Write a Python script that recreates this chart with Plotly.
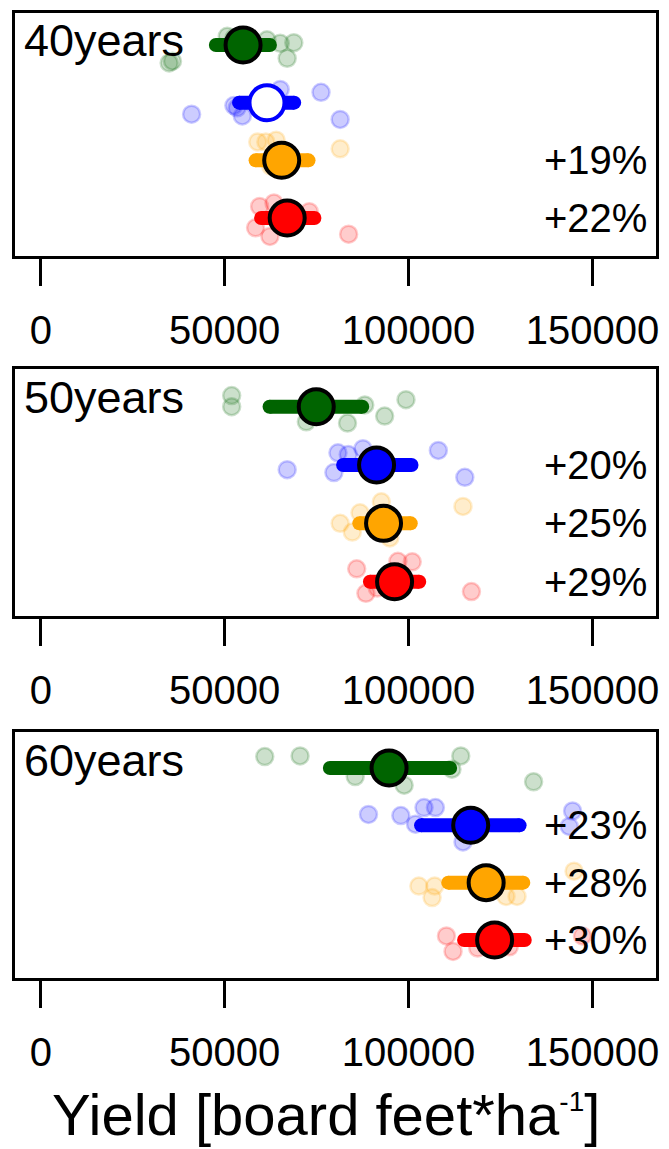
import plotly.graph_objects as go

# ---------------- data ----------------
ages = ["40years", "50years", "60years"]
group_colors = ["#006400", "#0000FF", "#FFA500", "#FF0000"]  # green, blue, orange, red
rows = [4, 3, 2, 1]

means_40 = [55000, 61500, 65500, 67000]
lo_40 = [47600, 53900, 58400, 59900]
hi_40 = [62300, 68900, 72800, 74400]
means_50 = [74900, 91300, 93200, 96200]
lo_50 = [62200, 82200, 86600, 89500]
hi_50 = [87400, 100800, 100600, 102900]
means_60 = [94700, 116900, 121100, 123400]
lo_60 = [78600, 103400, 110800, 115100]
hi_60 = [111300, 130200, 131200, 131600]

pct_40 = ["", "", "+19%", "+22%"]
pct_50 = ["", "+20%", "+25%", "+29%"]
pct_60 = ["", "+23%", "+28%", "+30%"]

pts40_green_x = [35800, 34900, 50700, 52500, 61500, 65100, 68800, 67000]
pts40_green_j = [-0.28, -0.31, 0.15, 0.12, 0.09, 0.03, 0.04, -0.23]
pts40_blue_x = [41000, 52500, 53400, 54800, 65100, 76200, 81400]
pts40_blue_j = [-0.2, -0.05, -0.09, -0.23, 0.23, 0.18, -0.29]
pts40_orange_x = [59000, 61200, 64000, 81400, 62500, 65000]
pts40_orange_j = [0.32, 0.32, 0.35, 0.2, -0.1, 0.05]
pts40_red_x = [59500, 63400, 73000, 58400, 62300, 83700]
pts40_red_j = [0.2, 0.26, 0.11, -0.17, -0.32, -0.28]

pts50_green_x = [51900, 51900, 72200, 83400, 88100, 93500, 99300]
pts50_green_j = [0.19, 0.0, -0.26, -0.28, 0.03, -0.16, 0.12]
pts50_blue_x = [67000, 79700, 80800, 83600, 87600, 108100, 115300]
pts50_blue_j = [-0.08, -0.13, 0.21, 0.18, 0.28, 0.25, -0.21]
pts50_orange_x = [81400, 84700, 86800, 92600, 94900, 114800]
pts50_orange_j = [0.0, -0.15, 0.18, 0.37, -0.25, 0.29]
pts50_red_x = [85900, 88400, 91500, 97100, 101000, 117100]
pts50_red_j = [0.22, -0.2, -0.11, 0.35, 0.34, -0.17]

pts60_green_x = [60900, 70500, 85500, 98800, 111800, 114200, 134000]
pts60_green_j = [0.2, 0.21, -0.15, -0.3, -0.02, 0.21, -0.24]
pts60_blue_x = [89100, 97900, 101900, 104200, 107300, 114800, 143700, 144600]
pts60_blue_j = [0.19, 0.17, 0.02, 0.31, 0.31, -0.29, -0.02, 0.25]
pts60_orange_x = [102800, 106400, 107100, 126500, 129500, 145000]
pts60_orange_j = [-0.06, -0.26, -0.06, -0.24, -0.24, 0.2]
pts60_red_x = [110300, 112100, 118800, 127400, 147300]
pts60_red_j = [0.07, -0.2, -0.14, -0.12, 0.07]

tick_vals = [0, 50000, 100000, 150000]
tick_text = ["0", "50000", "100000", "150000"]
x_title = "Yield [board feet*ha<sup><span style=\"font-size:28px\">-1</span></sup>]"

panels = [
    dict(age=ages[0], means=means_40, lo=lo_40, hi=hi_40, pct=pct_40,
         pts=[(pts40_green_x, pts40_green_j), (pts40_blue_x, pts40_blue_j),
              (pts40_orange_x, pts40_orange_j), (pts40_red_x, pts40_red_j)],
         open_blue=True),
    dict(age=ages[1], means=means_50, lo=lo_50, hi=hi_50, pct=pct_50,
         pts=[(pts50_green_x, pts50_green_j), (pts50_blue_x, pts50_blue_j),
              (pts50_orange_x, pts50_orange_j), (pts50_red_x, pts50_red_j)],
         open_blue=False),
    dict(age=ages[2], means=means_60, lo=lo_60, hi=hi_60, pct=pct_60,
         pts=[(pts60_green_x, pts60_green_j), (pts60_blue_x, pts60_blue_j),
              (pts60_orange_x, pts60_orange_j), (pts60_red_x, pts60_red_j)],
         open_blue=False),
]

# ---------------- layout geometry ----------------
W, H = 669, 1149
frame_px = [(13, 256), (369, 616), (732, 978)]
yranges = [(0.341, 4.555), (0.412, 4.646), (0.337, 4.628)]
x_left_px, x_right_px = 15, 659
xrange_ = [-7040, 167300]
FONT = "Liberation Sans, Arial, Helvetica, sans-serif"


def rgba(hexc, a):
    h = hexc.lstrip("#")
    r, g, b = int(h[0:2], 16), int(h[2:4], 16), int(h[4:6], 16)
    return f"rgba({r},{g},{b},{a})"


fig = go.Figure()
annotations = []

for p_i, p in enumerate(panels):
    sfx = "" if p_i == 0 else str(p_i + 1)
    xa, ya = "x" + sfx, "y" + sfx
    top_px, bot_px = frame_px[p_i]
    # jittered points
    for g_i, (xs, js) in enumerate(p["pts"]):
        col = group_colors[g_i]
        fig.add_trace(go.Scatter(
            x=xs, y=[rows[g_i] + j for j in js], mode="markers",
            xaxis=xa, yaxis=ya, showlegend=False, hoverinfo="skip",
            marker=dict(size=17, color=rgba(col, 0.2),
                        line=dict(color=rgba(col, 0.2), width=2.5)),
        ))
    # bars (with rounded ends)
    for g_i in range(4):
        col = group_colors[g_i]
        fig.add_trace(go.Scatter(
            x=[p["lo"][g_i], p["hi"][g_i]], y=[rows[g_i], rows[g_i]],
            mode="lines+markers", xaxis=xa, yaxis=ya, showlegend=False,
            hoverinfo="skip",
            line=dict(color=col, width=14),
            marker=dict(size=14, color=col, line=dict(width=0)),
        ))
    # means
    for g_i in range(4):
        col = group_colors[g_i]
        if g_i == 1 and p["open_blue"]:
            mk = dict(size=35, color="white", line=dict(color=col, width=4))
        else:
            mk = dict(size=35, color=col, line=dict(color="black", width=4))
        fig.add_trace(go.Scatter(
            x=[p["means"][g_i]], y=[rows[g_i]], mode="markers",
            xaxis=xa, yaxis=ya, showlegend=False, marker=mk,
        ))
    # labels
    annotations.append(dict(
        x=22 / W, xref="paper", y=1 - (top_px + 28) / H, yref="paper",
        text=p["age"], showarrow=False,
        xanchor="left", yanchor="middle",
        font=dict(family=FONT, size=45, color="black"),
    ))
    for g_i in range(4):
        if p["pct"][g_i]:
            annotations.append(dict(
                x=165300, xref=xa, y=rows[g_i], yref=ya, text=p["pct"][g_i],
                showarrow=False, xanchor="right", yanchor="middle",
                font=dict(family=FONT, size=40, color="black"),
            ))

    dom_y = [1 - bot_px / H, 1 - top_px / H]
    fig.layout["xaxis" + sfx] = dict(
        domain=[x_left_px / W, x_right_px / W], range=xrange_, anchor=ya,
        showline=True, linecolor="black", linewidth=3, mirror=True,
        showgrid=False, zeroline=False,
        ticks="outside", ticklen=27, tickwidth=2.5, tickcolor="black",
        tickvals=tick_vals, ticktext=tick_text, ticklabelstandoff=10,
        tickfont=dict(family=FONT, size=40, color="black"),
    )
    fig.layout["yaxis" + sfx] = dict(
        domain=dom_y, range=list(yranges[p_i]), anchor=xa,
        showline=True, linecolor="black", linewidth=3, mirror=True,
        showgrid=False, zeroline=False, showticklabels=False, ticks="",
    )

annotations.append(dict(
    x=327 / W, xref="paper", y=1 - 1114 / H, yref="paper", text=x_title,
    showarrow=False, xanchor="center", yanchor="middle",
    font=dict(family=FONT, size=58, color="black"),
))

fig.update_layout(
    width=W, height=H, margin=dict(l=0, r=0, t=0, b=0),
    paper_bgcolor="white", plot_bgcolor="white",
    annotations=annotations, showlegend=False,
)

fig.write_html(
    "out.html",
    config={"displayModeBar": False},
    post_script="document.body.style.margin='0';document.body.style.overflow='hidden';",
)
